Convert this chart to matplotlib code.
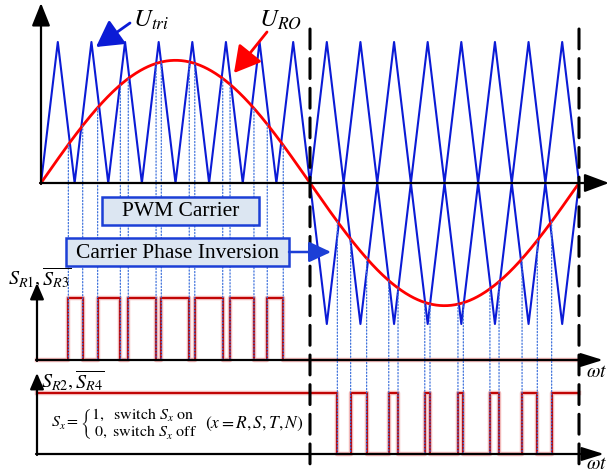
import numpy as np
import matplotlib
matplotlib.use("Agg")
import matplotlib.pyplot as plt
from matplotlib.patches import Rectangle, ConnectionPatch, FancyArrowPatch

plt.rcParams['font.family'] = ['Liberation Serif', 'DejaVu Serif']
plt.rcParams['mathtext.fontset'] = 'stix'

# --- datos de la figura ---
mod_index = 0.87           # amplitud de U_RO respecto a la portadora
carriers_per_half = 8      # triangulos por medio ciclo
# instantes de conmutacion (grados de wt)
sr1_edges = [18.3, 27.9, 37.9, 53.1, 58.4, 77.0, 80.5, 99.2,
             102.9, 121.6, 126.5, 142.5, 151.4, 162.1]
sr2_edges = [198.3, 207.2, 217.9, 232.7, 238.9, 256.8, 260.3, 279.0,
             282.6, 300.4, 306.5, 321.9, 332.1, 341.7]
sr1_start, sr2_start = 0, 1
half_marks = [180, 360]

label_tri = r'$U_{tri}$'
label_ro = r'$U_{RO}$'
label_sr1 = r'$S_{R1},\overline{S_{R3}}$'
label_sr2 = r'$S_{R2},\overline{S_{R4}}$'
label_wt = r'$\omega t$'
box_pwm = 'PWM Carrier'
box_inv = 'Carrier Phase Inversion'
formula = (r'$S_x=\left\{\genfrac{}{}{0}{0}'
           r'{1,\ \ \mathrm{switch}\ S_x\ \mathrm{on}\ _{\ }}'
           r'{0,\ \mathrm{switch}\ S_x\ \mathrm{off}^{\ }}\right.$')
formula_note = r'$(x=R,S,T,N)$'

BLUE = '#0b1bd6'
RED = '#ff0000'
DRED = '#c00000'
DOT = '#3f72dc'

# --- geometria en pixeles ---
W, H = 610, 473
X0 = 41                 # wt = 0
PX_DEG = 538 / 360      # pixeles por grado
XL = (-X0 / PX_DEG, (W - X0) / PX_DEG)
PULSE_X0 = (37 - X0) / PX_DEG

fig = plt.figure(figsize=(W / 100, H / 100), dpi=100)


def fx(px):
    return px / W


def fy(py):
    return 1 - py / H


def panel(base_px, unit_px):
    ax = fig.add_axes([0, 0, 1, 1])
    ax.set_xlim(XL)
    ax.set_ylim((base_px - H) / unit_px, base_px / unit_px)
    ax.axis('off')
    ax.patch.set_alpha(0)
    return ax


def arrow(p0, p1, color='k', lw=1.6, ms=20, hl=0.6, hw=0.3, z=3):
    a = FancyArrowPatch((fx(p0[0]), fy(p0[1])), (fx(p1[0]), fy(p1[1])),
                        transform=fig.transFigure,
                        arrowstyle=f'-|>,head_length={hl},head_width={hw}',
                        mutation_scale=ms, color=color, lw=lw, zorder=z,
                        shrinkA=0, shrinkB=0)
    fig.add_artist(a)


ax_u = panel(183, 141)
ax_a = panel(360, 62)
ax_b = panel(454, 60.7)

# ejes
arrow((41, 184), (41, 3), ms=20, hl=0.7, hw=0.28)
arrow((40, 183), (609, 183), ms=20, hl=0.75, hw=0.28)
arrow((37, 361), (37, 283), ms=15, hl=0.65, hw=0.28)
arrow((36, 360), (603, 360), ms=15, hl=0.9, hw=0.28)
arrow((37, 455), (37, 373), ms=15, hl=0.65, hw=0.28)
arrow((36, 454), (604, 454), ms=15, hl=0.9, hw=0.28)

# portadora triangular y referencia senoidal
n = 2 * carriers_per_half
th_c = np.arange(n + 1) * 180 / n
tri = np.arange(n + 1) % 2
ax_u.plot(th_c, tri, color=BLUE, lw=1.5, zorder=3)
ax_u.plot(th_c + 180, tri, color=BLUE, lw=1.5, zorder=3)
ax_u.plot(th_c + 180, -tri, color=BLUE, lw=1.5, zorder=3)

th = np.linspace(0, 360, 721)
ax_u.plot(th, mod_index * np.sin(np.radians(th)), color=RED, lw=2.0, zorder=4)


# senales de conmutacion
def pulses(ax, edges, start):
    xs = [PULSE_X0] + edges + [half_marks[-1]]
    lv = [(start + i) % 2 for i in range(len(edges) + 1)]
    lv = lv + [lv[-1]]
    ax.step(xs, lv, where='post', color='#f2b8b8', lw=3.2, zorder=2)
    ax.step(xs, lv, where='post', color=DRED, lw=1.4, zorder=3)


pulses(ax_a, sr1_edges, sr1_start)
pulses(ax_b, sr2_edges, sr2_start)

# lineas punteadas desde las intersecciones
for edges, ax_p in ((sr1_edges, ax_a), (sr2_edges, ax_b)):
    for e in edges:
        cp = ConnectionPatch(xyA=(e, mod_index * np.sin(np.radians(e))),
                             coordsA=ax_u.transData,
                             xyB=(e, 0), coordsB=ax_p.transData,
                             color=DOT, lw=0.9, linestyle=(0, (1, 1.6)),
                             zorder=1)
        fig.add_artist(cp)

# lineas de medio ciclo
for m in half_marks:
    cp = ConnectionPatch(xyA=(m, (183 - 29) / 141), coordsA=ax_u.transData,
                         xyB=(m, (454 - 466) / 60.7), coordsB=ax_b.transData,
                         color='k', lw=2.2, linestyle=(0, (6.5, 3.2)), zorder=4)
    fig.add_artist(cp)

# cajas de texto
for (x0, y0, x1, y1), txt in (((102, 197, 259, 225), box_pwm),
                              ((66, 238, 289, 266), box_inv)):
    fig.add_artist(Rectangle((fx(x0), fy(y1)), fx(x1 - x0), (y1 - y0) / H,
                             transform=fig.transFigure, fc='#dce6f2',
                             ec='#1c3fd6', lw=1.8, zorder=5))
    fig.text(fx((x0 + x1) / 2), fy((y0 + y1) / 2 + 1), txt, fontsize=15.5,
             ha='center', va='center', zorder=6)

arrow((289, 252), (331, 252), color='#1c3fd6', lw=1.8, ms=18, hl=0.75, hw=0.35, z=6)
arrow((130, 23), (96, 47), color='#0b1bd6', lw=2.0, ms=20, hl=0.8, hw=0.45, z=6)
arrow((267, 32), (234, 73), color=RED, lw=2.0, ms=20, hl=0.8, hw=0.45, z=6)

# etiquetas
fig.text(fx(133), fy(27), label_tri, fontsize=18, ha='left', va='baseline')
fig.text(fx(259), fy(27), label_ro, fontsize=18, ha='left', va='baseline')
fig.text(fx(8), fy(285), label_sr1, fontsize=14.5, ha='left', va='baseline')
fig.text(fx(41), fy(388), label_sr2, fontsize=14.5, ha='left', va='baseline')
fig.text(fx(586), fy(377), label_wt, fontsize=14, ha='left', va='baseline')
fig.text(fx(586), fy(469), label_wt, fontsize=14, ha='left', va='baseline')
fig.text(fx(51), fy(424), formula, fontsize=11.5, ha='left', va='center')
fig.text(fx(205), fy(428), formula_note, fontsize=12.5, ha='left', va='baseline')

fig.savefig('out.png', dpi=100)
